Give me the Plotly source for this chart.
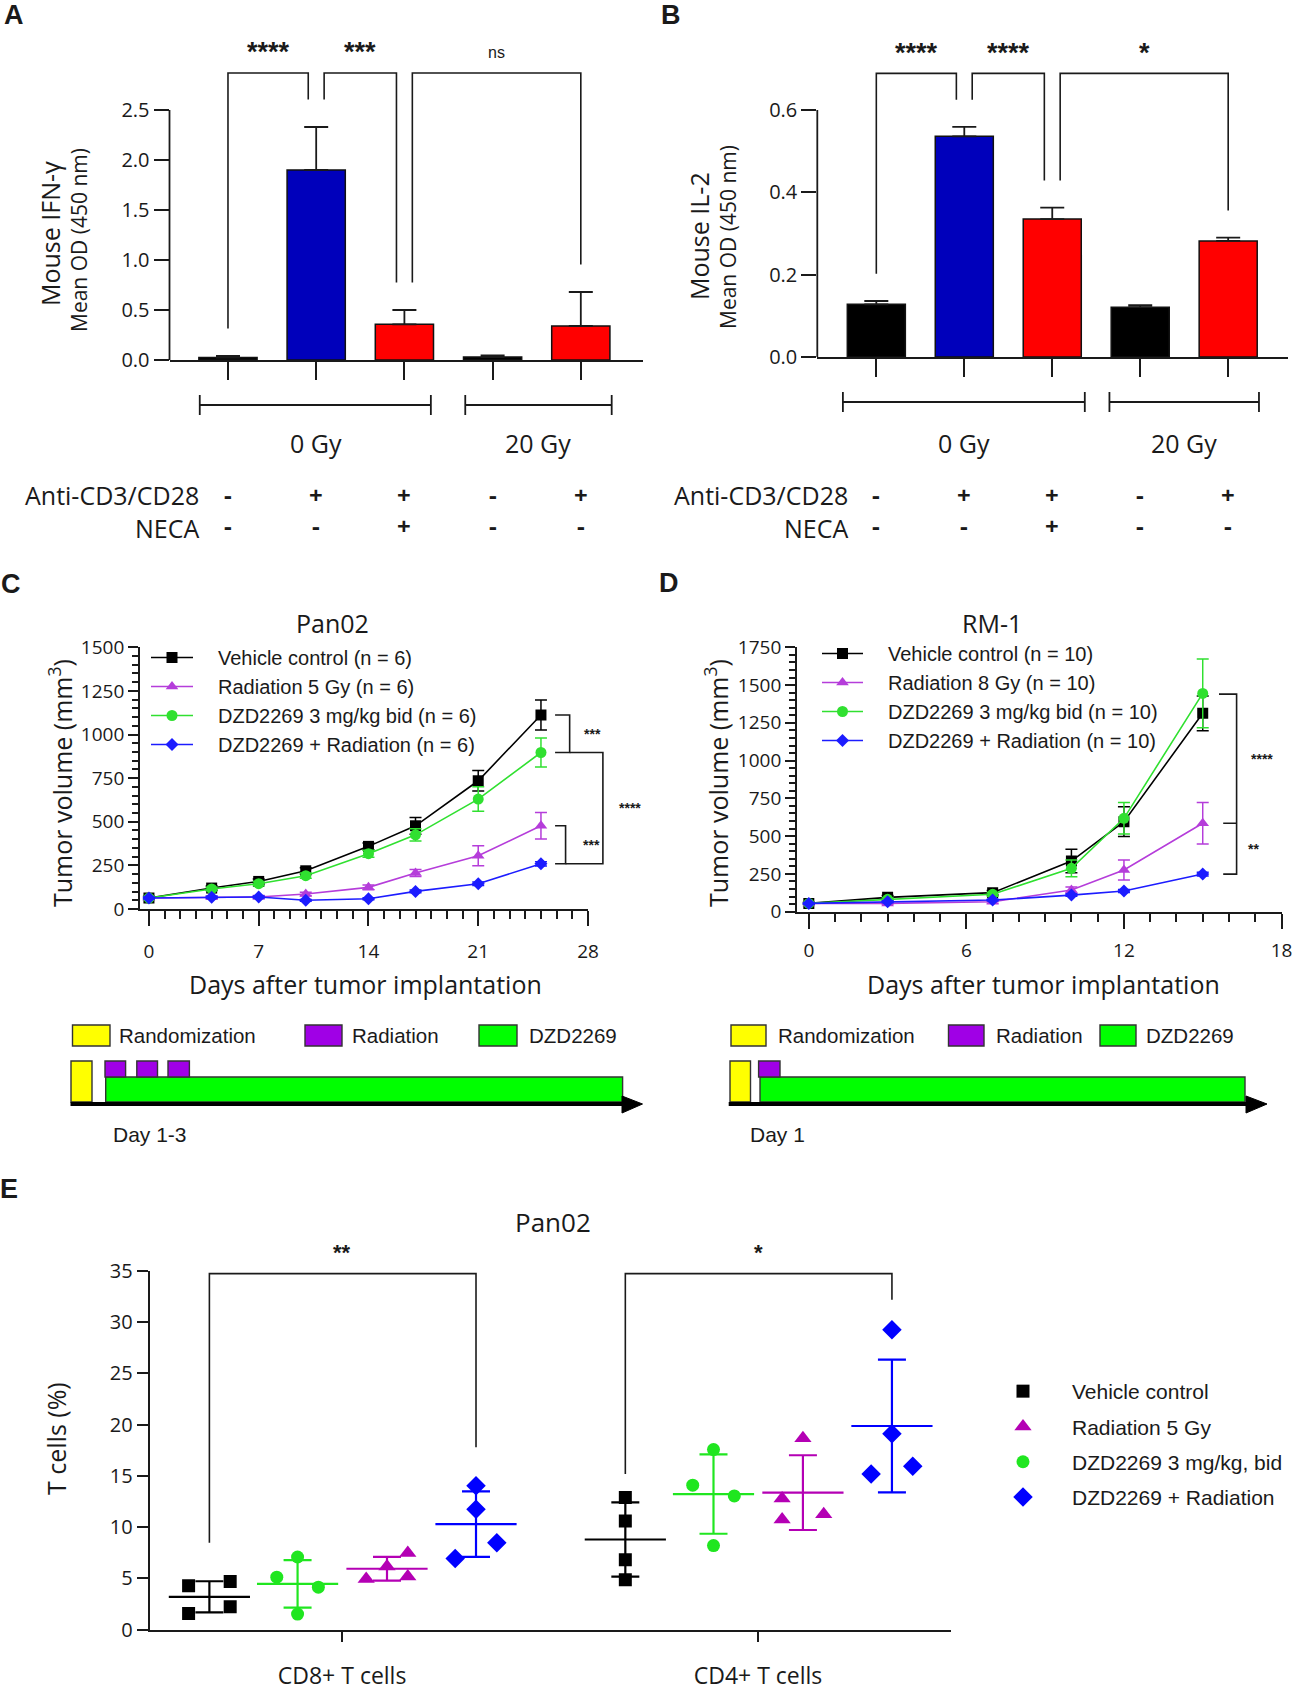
import numpy as np
import plotly.graph_objects as go

W, H = 1293, 1687


def PX(x):
    return x / W


def PY(y):
    return 1 - y / H


FONT = "Open Sans"
LFONT = "Liberation Sans"
INK = "#1a1a1a"

# ============================ DATA ============================
# Panels A / B : ELISA readouts
ab_groups = ["0 Gy | -/-", "0 Gy | CD3/CD28", "0 Gy | CD3/CD28 + NECA", "20 Gy | -/-", "20 Gy | CD3/CD28"]
anti_cd3_cd28 = ["-", "+", "+", "-", "+"]
neca = ["-", "-", "+", "-", "-"]
dose_labels = ["0 Gy", "20 Gy"]

ifng_mean = [0.025, 1.90, 0.357, 0.030, 0.340]
ifng_err = [0.015, 0.43, 0.143, 0.016, 0.340]
il2_mean = [0.128, 0.536, 0.335, 0.121, 0.282]
il2_err = [0.008, 0.023, 0.028, 0.005, 0.008]
sig_pairs = [(0, 1), (1, 2), (2, 4)]
ifng_sig = ["****", "***", "ns"]
il2_sig = ["****", "****", "*"]

# Panel C : Pan02 tumor growth
pan02_days = [0, 4, 7, 10, 14, 17, 21, 25]
pan02_vehicle = [63, 120, 158, 219, 359, 477, 735, 1112]
pan02_vehicle_err = [10, 12, 14, 18, 20, 48, 59, 86]
pan02_radiation = [63, 67, 69, 86, 124, 206, 305, 477]
pan02_radiation_err = [8, 8, 8, 10, 14, 20, 57, 76]
pan02_dzd = [63, 115, 145, 191, 317, 425, 630, 897]
pan02_dzd_err = [8, 10, 12, 15, 20, 35, 70, 83]
pan02_combo = [63, 67, 69, 50, 59, 101, 145, 259]
pan02_combo_err = [6, 6, 6, 5, 6, 8, 10, 12]
pan02_names = ["Vehicle control (n = 6)", "Radiation 5 Gy (n = 6)",
               "DZD2269 3 mg/kg bid (n = 6)", "DZD2269 + Radiation (n = 6)"]

# Panel D : RM-1 tumor growth
rm1_days = [0, 3, 7, 10, 12, 15]
rm1_vehicle = [55, 95, 126, 335, 596, 1313]
rm1_vehicle_err = [8, 12, 15, 78, 98, 115]
rm1_radiation = [55, 55, 66, 143, 276, 585]
rm1_radiation_err = [6, 8, 10, 20, 67, 137]
rm1_dzd = [55, 82, 115, 287, 618, 1445]
rm1_dzd_err = [6, 10, 12, 55, 104, 228]
rm1_combo = [55, 66, 77, 110, 137, 249]
rm1_combo_err = [5, 6, 6, 8, 10, 12]
rm1_names = ["Vehicle control (n = 10)", "Radiation 8 Gy (n = 10)",
             "DZD2269 3 mg/kg bid (n = 10)", "DZD2269 + Radiation (n = 10)"]

# Panel E : T cell infiltration (individual mice), [CD8 values, CD4 values]
e_cells = ["CD8+ T cells", "CD4+ T cells"]
e_groups = ["Vehicle control", "Radiation 5 Gy", "DZD2269 3 mg/kg, bid", "DZD2269 + Radiation"]
e_vehicle = [[4.26, 4.69, 2.23, 1.57], [12.88, 10.59, 6.82, 4.85]]
e_radiation = [[7.47, 6.16, 4.92, 5.18], [18.68, 12.78, 10.75, 11.24]]
e_dzd = [[7.08, 5.11, 4.13, 1.51], [17.57, 14.09, 13.04, 8.19]]
e_combo = [[14.03, 11.73, 8.46, 6.92], [29.26, 19.10, 15.93, 15.18]]

# ============================ STYLE ============================
bar_colors = ["#000000", "#0000BB", "#FF0000", "#000000", "#FF0000"]
c_colors = ["#000000", "#B53DDA", "#30E030", "#1C1CFF"]
c_symbols = ["square", "triangle-up", "circle", "diamond"]
c_sizes = [11, 11, 11, 10]
e_colors = ["#000000", "#B400B4", "#20E620", "#0000FF"]
e_symbols = ["square", "triangle-up", "circle", "diamond"]
e_sizes = [13, 15, 13, 15]
e_offsets = [-0.319, 0.108, -0.107, 0.322]          # x offset of each group
e_jitter = [[[-1, 1, 1, -1], [0, 0, 0, 0]],
            [[1, 0, -1, 1], [0, -1, -1, 1]],
            [[0, -1, 1, 0], [0, -1, 1, 0]],
            [[0, 0, 1, -1], [0, 0, 1, -1]]]
JIT = 0.05

fig = go.Figure()
shapes = []
annots = []


def txt(x, y, s, size=18, family=FONT, xref="paper", yref="paper", xa="center", ya="middle",
        bold=False, angle=0, color=INK, align="center"):
    annots.append(dict(x=x, y=y, xref=xref, yref=yref, text=(f"<b>{s}</b>" if bold else s),
                       showarrow=False, xanchor=xa, yanchor=ya, textangle=angle, align=align,
                       font=dict(family=family, size=size, color=color)))


def path(points, xref, yref, color=INK, width=1.6):
    d = "M " + " L ".join(f"{x},{y}" for x, y in points)
    shapes.append(dict(type="path", path=d, xref=xref, yref=yref,
                       line=dict(color=color, width=width)))


def axis_base(**kw):
    base = dict(showgrid=False, zeroline=False, linecolor=INK, linewidth=1.8, tickcolor=INK,
                tickwidth=1.8, ticks="outside", automargin=False,
                tickfont=dict(family=FONT, size=19, color=INK))
    base.update(kw)
    return base


layout_axes = {}

# ============================ PANELS A & B ============================
ab_cfg = [
    dict(ax="", mean=ifng_mean, err=ifng_err, sig=ifng_sig, ymax=2.5, ydt=0.5, yr=[0, 3.2],
         xdom=(169.5, 643), ybot=360, ppu=100.0, xr=[-0.663, 4.705],
         spans=[(-0.32, 2.30), (2.69, 4.35)], gy=405, lab_right=201,
         t1="Mouse IFN-γ", t1x=50, t2x=79, t1y=234, t2y=240, letter="A", lx=14,
         sigsize=[27, 27, 16]),
    dict(ax="2", mean=il2_mean, err=il2_err, sig=il2_sig, ymax=0.6, ydt=0.2, yr=[0, 0.76],
         xdom=(817.3, 1288), ybot=357, ppu=411.7, xr=[-0.671, 4.68],
         spans=[(-0.38, 2.37), (2.65, 4.35)], gy=402, lab_right=850,
         t1="Mouse IL-2", t1x=699, t2x=728, t1y=236, t2y=237, letter="B", lx=671,
         sigsize=[27, 27, 27]),
]

for cfg in ab_cfg:
    a = cfg["ax"]
    xr_, yr_ = "x" + a, "y" + a
    fig.add_trace(go.Bar(
        x=ab_groups, y=cfg["mean"], xaxis=xr_, yaxis=yr_, width=0.66, showlegend=False,
        marker=dict(color=bar_colors, line=dict(color="#111", width=1.5)),
        error_y=dict(type="data", symmetric=False, array=cfg["err"],
                     arrayminus=[0] * len(cfg["mean"]), color=INK, thickness=1.8, width=12)))
    ytop = cfg["ybot"] - cfg["ppu"] * cfg["yr"][1]
    yt = np.arange(0, cfg["ymax"] + 1e-9, cfg["ydt"])
    layout_axes["xaxis" + a] = axis_base(
        domain=[PX(cfg["xdom"][0]), PX(cfg["xdom"][1])], range=cfg["xr"], anchor=yr_,
        type="category", categoryorder="array", categoryarray=ab_groups,
        tickvals=ab_groups, showticklabels=False, ticklen=18, showline=True)
    layout_axes["yaxis" + a] = axis_base(
        domain=[PY(cfg["ybot"]), PY(ytop)], range=cfg["yr"], anchor=xr_, showline=False,
        tickvals=list(yt), ticktext=[f"{v:.1f}" for v in yt], ticklen=15,
        tickfont=dict(family=FONT, size=20, color=INK))
    # y axis line only up to the last tick
    shapes.append(dict(type="line", xref=xr_ + " domain", yref=yr_, x0=0, x1=0, y0=0,
                       y1=cfg["ymax"], line=dict(color=INK, width=1.8)))
    # significance brackets
    ymax = cfg["ymax"]
    top, gap, sy = ymax * 1.148, ymax * 0.11, ymax * 1.232
    used = {}
    for i, j in sig_pairs:
        used[i] = used.get(i, 0) + 1
        used[j] = used.get(j, 0) + 1
    for k, ((i, j), lab) in enumerate(zip(sig_pairs, cfg["sig"])):
        xi = i + (0.09 if used[i] > 1 else 0)
        xj = j - (0.09 if used[j] > 1 else 0)
        yi = cfg["mean"][i] + cfg["err"][i] + gap
        yj = cfg["mean"][j] + cfg["err"][j] + gap
        path([(xi, yi), (xi, top), (xj, top), (xj, yj)], xr_, yr_)
        txt((xi + xj) / 2, sy, lab, size=cfg["sigsize"][k], family=LFONT, xref=xr_, yref=yr_,
            bold=(lab != "ns"))
    # dose group lines
    for (s0, s1), lab in zip(cfg["spans"], dose_labels):
        g = cfg["gy"]
        shapes.append(dict(type="line", xref=xr_, yref="paper", x0=s0, x1=s1, y0=PY(g), y1=PY(g),
                           line=dict(color=INK, width=1.8)))
        for s in (s0, s1):
            shapes.append(dict(type="line", xref=xr_, yref="paper", x0=s, x1=s, y0=PY(g - 10),
                               y1=PY(g + 10), line=dict(color=INK, width=1.8)))
        txt((s0 + s1) / 2 if lab == "20 Gy" else 1, PY(443), lab, size=25, xref=xr_)
    # treatment rows (two lines per annotation)
    txt(PX(cfg["lab_right"]), PY(511.5), "Anti-CD3/CD28<br>NECA", size=25, xa="right",
        align="right")
    for g, s1, s2 in zip(ab_groups, anti_cd3_cd28, neca):
        txt(g, PY(509.5), f"{s1}<br>{s2}", size=24, xref=xr_, bold=True)
    # y title
    txt(PX(cfg["t1x"]), PY(cfg["t1y"]), cfg["t1"], size=25, angle=-90)
    txt(PX(cfg["t2x"]), PY(cfg["t2y"]), "Mean OD (450 nm)", size=21, angle=-90)
    txt(PX(cfg["lx"]), PY(15), cfg["letter"], size=27, bold=True, family=LFONT)

# ============================ PANELS C & D ============================
cd_cfg = [
    dict(ax="3", legend="legend", days=pan02_days, names=pan02_names,
         series=[(pan02_vehicle, pan02_vehicle_err), (pan02_radiation, pan02_radiation_err),
                 (pan02_dzd, pan02_dzd_err), (pan02_combo, pan02_combo_err)],
         xdom=(140, 588), ydom=(647.3, 909), xr=[-0.57, 28], yr=[0, 1500], xdt=7,
         title="Pan02", tx=332, ytx=60, xtx=365, letter="C", lx=11, ly=584, so=9),
    dict(ax="4", legend="legend2", days=rm1_days, names=rm1_names,
         series=[(rm1_vehicle, rm1_vehicle_err), (rm1_radiation, rm1_radiation_err),
                 (rm1_dzd, rm1_dzd_err), (rm1_combo, rm1_combo_err)],
         xdom=(797, 1281.5), ydom=(647.3, 911.7), xr=[-0.45, 18], yr=[0, 1750], xdt=6,
         title="RM-1", tx=992, ytx=716, xtx=1043, letter="D", lx=669, ly=583, so=6),
]

for cfg in cd_cfg:
    a = cfg["ax"]
    xr_, yr_ = "x" + a, "y" + a
    for k, ((vals, errs), name) in enumerate(zip(cfg["series"], cfg["names"])):
        fig.add_trace(go.Scatter(
            x=cfg["days"], y=vals, xaxis=xr_, yaxis=yr_, mode="lines+markers",
            name="\u2002\u2002" + name, legend=cfg["legend"],
            line=dict(color=c_colors[k], width=1.6),
            marker=dict(symbol=c_symbols[k], size=c_sizes[k], color=c_colors[k]),
            error_y=dict(type="data", array=errs, color=c_colors[k], thickness=1.5, width=6)))
    layout_axes["xaxis" + a] = axis_base(
        domain=[PX(cfg["xdom"][0]), PX(cfg["xdom"][1])], range=cfg["xr"], anchor=yr_,
        tickmode="linear", tick0=0, dtick=cfg["xdt"], ticklen=15, showline=True,
        minor=dict(dtick=1, tick0=0, ticks="outside", ticklen=8, tickcolor=INK, tickwidth=1.5),
        ticklabelstandoff=cfg["so"], ticklabeloverflow="allow")
    layout_axes["yaxis" + a] = axis_base(
        domain=[PY(cfg["ydom"][1]), PY(cfg["ydom"][0])], range=cfg["yr"], anchor=xr_,
        tickmode="linear", tick0=0, dtick=250, ticklen=10, showline=True,
        minor=dict(dtick=50, tick0=0, ticks="outside", ticklen=6, tickcolor=INK, tickwidth=1.5))
    txt(PX(cfg["tx"]), PY(623), cfg["title"], size=25)
    txt(PX(cfg["ytx"]), PY(783), "Tumor volume (mm<sup>3</sup>)", size=25, angle=-90)
    txt(PX(cfg["xtx"]), PY(984), "Days after tumor implantation", size=25)
    txt(PX(cfg["lx"]), PY(cfg["ly"]), cfg["letter"], size=27, bold=True, family=LFONT)

# Panel C significance brackets
cxr = cd_cfg[0]["xr"]


def cdom(d):
    return (d - cxr[0]) / (cxr[1] - cxr[0])


vC, rC, dC, cC = pan02_vehicle[-1], pan02_radiation[-1], pan02_dzd[-1], pan02_combo[-1]
path([(25.9, vC), (26.83, vC), (26.83, dC), (25.9, dC)], "x3", "y3")
path([(25.9, rC), (26.57, rC), (26.57, cC), (25.9, cC)], "x3", "y3")
path([(cdom(26.83), dC), (cdom(28.95), dC), (cdom(28.95), cC), (cdom(26.57), cC)], "x3 domain", "y3")
txt(cdom(28.3), (vC + dC) / 2, "***", size=14, family=LFONT, xref="x3 domain", yref="y3", bold=True)
txt(cdom(28.2), (rC + cC) / 2, "***", size=14, family=LFONT, xref="x3 domain", yref="y3", bold=True)
txt(cdom(30.7), (dC + cC) / 2, "****", size=14, family=LFONT, xref="x3 domain", yref="y3", bold=True)

# Panel D significance brackets
dD, rD, cD = 1440, rm1_radiation[-1], rm1_combo[-1]
path([(15.62, dD), (16.29, dD), (16.29, cD), (15.78, cD)], "x4", "y4")
path([(15.78, rD), (16.29, rD)], "x4", "y4")
txt(17.27, (dD + rD) / 2, "****", size=14, family=LFONT, xref="x4", yref="y4", bold=True)
txt(16.95, (rD + cD) / 2, "**", size=14, family=LFONT, xref="x4", yref="y4", bold=True)

# ============================ TIMELINES ============================
YEL, PUR, GRN, EDGE = "#FFFF00", "#A000E6", "#00FF00", "#333333"


def rect(x0, x1, y0, y1, color, edge=EDGE, w=1.4):
    shapes.append(dict(type="rect", xref="paper", yref="paper", x0=PX(x0), x1=PX(x1),
                       y0=PY(y1), y1=PY(y0), fillcolor=color, line=dict(color=edge, width=w)))


timelines = [
    dict(leg=[(72.5, 110, YEL, 117, "Randomization"), (305, 342, PUR, 350, "Radiation"),
              (479, 517, GRN, 527, "DZD2269")],
         yel=(71, 92), pur=[(105, 125.6), (136.8, 157.5), (168, 189.4)], grn=(105.7, 622.6),
         arrow=(70.5, 626, 642.5), day=(150, "Day 1-3")),
    dict(leg=[(731, 766, YEL, 776, "Randomization"), (948.5, 984, PUR, 994, "Radiation"),
              (1100, 1136, GRN, 1144, "DZD2269")],
         yel=(730, 750.5), pur=[(758.6, 780)], grn=(760, 1245),
         arrow=(728.7, 1250, 1267), day=(777, "Day 1")),
]
for tl in timelines:
    for x0, x1, col, tx, lab in tl["leg"]:
        rect(x0, x1, 1025, 1046, col)
        txt(PX(tx), PY(1035), lab, size=20.5, family=LFONT, xa="left")
    rect(tl["yel"][0], tl["yel"][1], 1061, 1102, YEL)
    rect(tl["grn"][0], tl["grn"][1], 1077, 1102, GRN)
    for p0, p1 in tl["pur"]:
        rect(p0, p1, 1061, 1077, PUR)
    ax0, ax1, tip = tl["arrow"]
    rect(ax0, ax1, 1102, 1106, "#000000", edge="#000000", w=0)
    shapes.append(dict(type="path", xref="paper", yref="paper",
                       path=f"M {PX(ax1 - 4)},{PY(1096)} L {PX(tip)},{PY(1104)} L {PX(ax1 - 4)},{PY(1113)} Z",
                       fillcolor="#000000", line=dict(color="#000000", width=1)))
    txt(PX(tl["day"][0]), PY(1134), tl["day"][1], size=21, family=LFONT)

# ============================ PANEL E ============================
e_data = [e_vehicle, e_radiation, e_dzd, e_combo]
cat_pos = np.arange(len(e_cells))
for k, (grp, vals) in enumerate(zip(e_groups, e_data)):
    xs, ys = [], []
    for c, cell_vals in enumerate(vals):
        for v, j in zip(cell_vals, e_jitter[k][c]):
            xs.append(cat_pos[c] + e_offsets[k] + j * JIT)
            ys.append(v)
    fig.add_trace(go.Scatter(
        x=xs, y=ys, xaxis="x5", yaxis="y5", mode="markers", name=grp, legend="legend3",
        legendgroup="E" + str(k),
        marker=dict(symbol=e_symbols[k], size=e_sizes[k], color=e_colors[k])))
    means = [float(np.mean(v)) for v in vals]
    sds = [float(np.std(v, ddof=1)) for v in vals]
    fig.add_trace(go.Scatter(
        x=[cat_pos[c] + e_offsets[k] for c in range(len(vals))], y=means, xaxis="x5", yaxis="y5",
        mode="markers", showlegend=False, legend="legend3",
        marker=dict(symbol="line-ew", size=58, color=e_colors[k],
                    line=dict(color=e_colors[k], width=2.2)),
        error_y=dict(type="data", array=sds, color=e_colors[k], thickness=2.2, width=14)))

layout_axes["xaxis5"] = axis_base(
    domain=[PX(149.5), PX(951)], range=[-0.463, 1.464], anchor="y5", tickvals=list(cat_pos),
    ticktext=e_cells, ticklen=11, showline=True, ticklabelstandoff=14,
    tickfont=dict(family=FONT, size=23, color=INK))
layout_axes["yaxis5"] = axis_base(
    domain=[PY(1629.5), PY(1271)], range=[0, 35], anchor="x5", tickmode="linear", tick0=0, dtick=5,
    ticklen=11, showline=True, tickfont=dict(family=FONT, size=20, color=INK))

off_v, off_c = e_offsets[0], e_offsets[3]
path([(cat_pos[0] + off_v, 8.46), (cat_pos[0] + off_v, 34.74), (cat_pos[0] + off_c, 34.74),
      (cat_pos[0] + off_c, 17.8)], "x5", "y5")
path([(cat_pos[1] + off_v, 15.18), (cat_pos[1] + off_v, 34.74), (cat_pos[1] + off_c, 34.74),
      (cat_pos[1] + off_c, 32.2)], "x5", "y5")
txt(cat_pos[0], 36.8 / 35, "**", size=22, family=LFONT, xref="x5", yref="y5 domain", bold=True)
txt(cat_pos[1], 36.8 / 35, "*", size=22, family=LFONT, xref="x5", yref="y5 domain", bold=True)
txt(PX(553), PY(1222), "Pan02", size=26)
txt(PX(56), PY(1439), "T cells (%)", size=25, angle=-90)
txt(PX(9), PY(1189), "E", size=27, bold=True, family=LFONT)

# ============================ LAYOUT ============================
leg_common = dict(bgcolor="rgba(0,0,0,0)", borderwidth=0, xanchor="left", yanchor="top",
                  traceorder="normal", font=dict(family=LFONT, size=20, color=INK))
fig.update_layout(
    width=W, height=H, margin=dict(l=0, r=0, t=0, b=0),
    paper_bgcolor="white", plot_bgcolor="white",
    shapes=shapes, annotations=annots,
    legend=dict(leg_common, x=PX(146), y=PY(638), itemwidth=42),
    legend2=dict(leg_common, x=PX(817), y=PY(634), itemwidth=41),
    legend3=dict(leg_common, x=PX(974), y=PY(1371), itemwidth=88, tracegroupgap=5,
                 traceorder="grouped", font=dict(family=LFONT, size=21, color=INK)),
    **layout_axes,
)

fig.write_html("out.html", config={"displayModeBar": False},
               post_script="document.body.style.margin='0px';document.body.style.overflow='hidden';")
